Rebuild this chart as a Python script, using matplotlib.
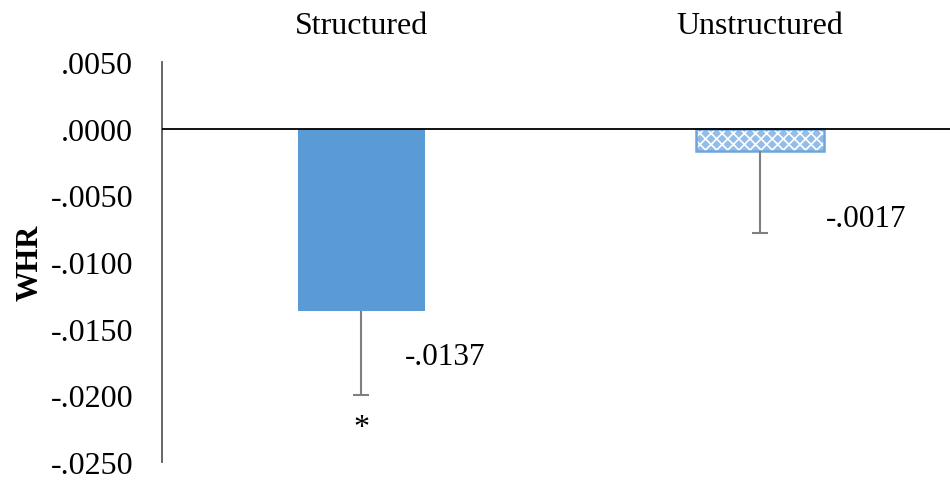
import numpy as np
import matplotlib.pyplot as plt
from matplotlib.ticker import FuncFormatter

# dados do grafico
grupos = ['Structured', 'Unstructured']
valores = [-0.0137, -0.0017]
erros = [0.0063, 0.0061]
rotulos = ['-.0137', '-.0017']
yticks = [0.005, 0.0, -0.005, -0.010, -0.015, -0.020, -0.025]

plt.rcParams['font.family'] = ['Liberation Serif', 'DejaVu Serif']
plt.rcParams['hatch.linewidth'] = 1.2

fig = plt.figure(figsize=(9.5, 4.85), dpi=100)
ax = fig.add_axes([0.171, 0.045, 0.829, 0.825])

x = np.arange(len(grupos))
largura = 0.32

# barra cheia
ax.bar(x[0], valores[0], width=largura, color='#5B9BD5', zorder=2)
# barra com padrao: fundo azul, hachura branca, contorno azul por cima
ax.bar(x[1], valores[1], width=largura, facecolor='#93BDE8', edgecolor='white',
       hatch='xxx', linewidth=0, zorder=2)
ax.bar(x[1], valores[1], width=largura, facecolor='none', edgecolor='#6FA5DB',
       linewidth=1.8, zorder=2)

# barras de erro so pra baixo
eb = ax.errorbar(x, valores, yerr=[erros, [0, 0]], fmt='none', ecolor='#7f7f7f',
                 elinewidth=1.5, capsize=6, capthick=1.5, zorder=3)
eb[1][1].set_visible(False)  # tira o cap de cima

ax.axhline(0, color='black', lw=1.3, zorder=4)

# rotulos dos valores
ax.text(x[0] + 0.11, -0.0171, rotulos[0], fontsize=22.5, va='center', ha='left')
ax.text(x[1] + 0.165, -0.0067, rotulos[1], fontsize=22.5, va='center', ha='left')
ax.text(x[0], -0.0224, '*', fontsize=23, ha='center', va='center')

ax.set_xlim(-0.499, 1.476)
ax.set_ylim(-0.025, 0.005)
ax.set_yticks(yticks)
ax.yaxis.set_major_formatter(FuncFormatter(
    lambda v, p: ('-' if v < -1e-9 else '') + ('%.4f' % abs(v))[1:]))
ax.tick_params(axis='y', length=0, labelsize=23, pad=21)

ax.xaxis.tick_top()
ax.set_xticks(x)
ax.set_xticklabels(grupos, fontsize=23)
ax.tick_params(axis='x', length=0, pad=16)

for s in ['top', 'right', 'bottom']:
    ax.spines[s].set_visible(False)
ax.spines['left'].set_color('#595959')
ax.spines['left'].set_linewidth(1.3)

ax.set_ylabel('WHR', fontsize=22, fontweight='bold', labelpad=4)

fig.savefig('out.png', dpi=100)
